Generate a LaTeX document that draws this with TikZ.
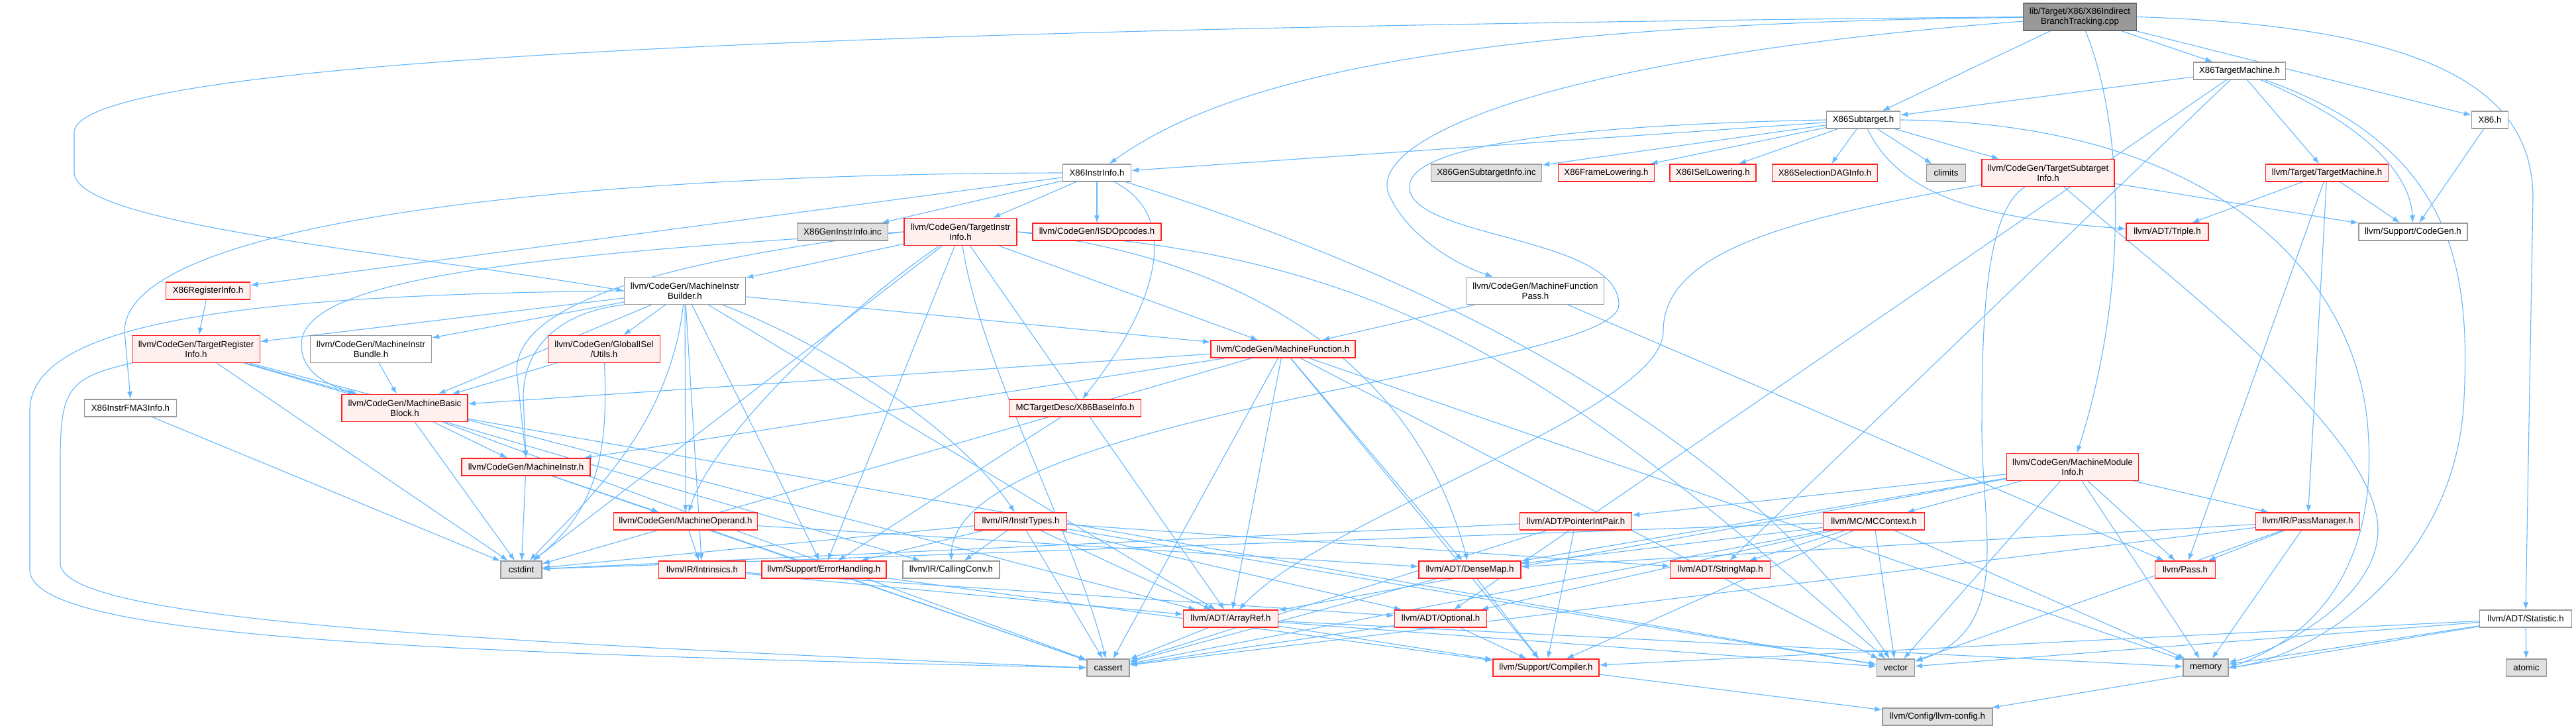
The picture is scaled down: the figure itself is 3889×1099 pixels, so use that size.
\documentclass[tikz,border=0pt]{standalone}
\usepackage{fontspec}
\setmainfont{Liberation Sans}
\usetikzlibrary{arrows.meta,backgrounds}
\definecolor{ecol}{HTML}{63B8FF}
\definecolor{rfill}{HTML}{FFF0F0}
\definecolor{gfill}{HTML}{E0E0E0}
\definecolor{gbord}{HTML}{999999}
\definecolor{rootfill}{HTML}{999999}
\definecolor{rootbord}{HTML}{666666}
\definecolor{rbord}{HTML}{FF2020}
\newcommand\nfs{\fontsize{13.3}{14.7}\selectfont}
\begin{document}
\begin{tikzpicture}[x=1pt,y=-1pt,
  box/.style={line width=1.4pt, inner sep=0pt, minimum height=26pt, align=center, font=\nfs},
  wnode/.style={box, draw=gbord, fill=white},
  rnode/.style={box, draw=rbord, fill=rfill},
  gnode/.style={box, draw=gbord, fill=gfill},
  rootnode/.style={box, draw=rootbord, fill=rootfill},
  two/.style={minimum height=41pt},
  edge/.style={draw=ecol, line width=1.1pt, -{Latex[length=11pt,width=8pt]}}]
\path[use as bounding box] (0,0) rectangle (3889,1099);

% ---- nodes ----
\node[rootnode, two, minimum width=171] (root) at (3140,25.5) {lib/Target/X86/X86Indirect\\BranchTracking.cpp};
\node[wnode, minimum width=139] (tm) at (3381,107) {X86TargetMachine.h};
\node[wnode, minimum width=111] (sub) at (2813,181) {X86Subtarget.h};
\node[wnode, minimum width=55] (x86) at (3759,181) {X86.h};
\node[wnode, minimum width=103] (instr) at (1656,261) {X86InstrInfo.h};
\node[gnode, minimum width=167] (gensub) at (2244,261) {X86GenSubtargetInfo.inc};
\node[rnode, minimum width=145] (frame) at (2425,261) {X86FrameLowering.h};
\node[rnode, minimum width=130] (isel) at (2586,261) {X86ISelLowering.h};
\node[rnode, minimum width=159] (dag) at (2755,261) {X86SelectionDAGInfo.h};
\node[gnode, minimum width=59] (climits) at (2938,261) {climits};
\node[rnode, two, minimum width=200] (tsi) at (3092,261) {llvm/CodeGen/TargetSubtarget\\Info.h};
\node[rnode, minimum width=185] (tmach) at (3513,261) {llvm/Target/TargetMachine.h};
\node[rnode, minimum width=124] (triple) at (3272,350) {llvm/ADT/Triple.h};
\node[wnode, minimum width=164] (codegen) at (3643,350) {llvm/Support/CodeGen.h};
\node[gnode, minimum width=137] (geninstr) at (1272,350) {X86GenInstrInfo.inc};
\node[rnode, two, minimum width=170] (tii) at (1450,350) {llvm/CodeGen/TargetInstr\\Info.h};
\node[rnode, minimum width=194] (isd) at (1656,350) {llvm/CodeGen/ISDOpcodes.h};
\node[rnode, minimum width=127] (reginfo) at (314,439) {X86RegisterInfo.h};
\node[wnode, two, minimum width=183] (mib) at (1034,439) {llvm/CodeGen/MachineInstr\\Builder.h};
\node[wnode, two, minimum width=207] (mfp) at (2318,439) {llvm/CodeGen/MachineFunction\\Pass.h};
\node[rnode, two, minimum width=193] (tri) at (296,527) {llvm/CodeGen/TargetRegister\\Info.h};
\node[wnode, two, minimum width=183] (bundle) at (560,527) {llvm/CodeGen/MachineInstr\\Bundle.h};
\node[rnode, two, minimum width=169] (gisel) at (912,527) {llvm/CodeGen/GlobalISel\\/Utils.h};
\node[rnode, minimum width=218] (mf) at (1937,527) {llvm/CodeGen/MachineFunction.h};
\node[wnode, minimum width=139] (fma3) at (197,616) {X86InstrFMA3Info.h};
\node[rnode, two, minimum width=190] (mbb) at (611,616) {llvm/CodeGen/MachineBasic\\Block.h};
\node[rnode, minimum width=199] (baseinfo) at (1623,616) {MCTargetDesc/X86BaseInfo.h};
\node[rnode, minimum width=194] (mi) at (794,705) {llvm/CodeGen/MachineInstr.h};
\node[rnode, two, minimum width=199] (mmi) at (3129,705) {llvm/CodeGen/MachineModule\\Info.h};
\node[rnode, minimum width=217] (mo) at (1035,787) {llvm/CodeGen/MachineOperand.h};
\node[rnode, minimum width=139] (instrtypes) at (1541,787) {llvm/IR/InstrTypes.h};
\node[rnode, minimum width=169] (pip) at (2379,787) {llvm/ADT/PointerIntPair.h};
\node[rnode, minimum width=153] (mcctx) at (2829,787) {llvm/MC/MCContext.h};
\node[rnode, minimum width=157] (pm) at (3484,787) {llvm/IR/PassManager.h};
\node[gnode, minimum width=62] (cstdint) at (787,860) {cstdint};
\node[rnode, minimum width=131] (intrinsics) at (1060,860) {llvm/IR/Intrinsics.h};
\node[rnode, minimum width=188] (errh) at (1244,860) {llvm/Support/ErrorHandling.h};
\node[wnode, minimum width=146] (cc) at (1436,860) {llvm/IR/CallingConv.h};
\node[rnode, minimum width=154] (densemap) at (2219,860) {llvm/ADT/DenseMap.h};
\node[rnode, minimum width=151] (strmap) at (2597,860) {llvm/ADT/StringMap.h};
\node[rnode, minimum width=91] (pass) at (3299,860) {llvm/Pass.h};
\node[rnode, minimum width=143] (arrayref) at (1858,934) {llvm/ADT/ArrayRef.h};
\node[rnode, minimum width=139] (optional) at (2175,934) {llvm/ADT/Optional.h};
\node[wnode, minimum width=139] (stat) at (3813,934) {llvm/ADT/Statistic.h};
\node[gnode, minimum width=64] (cassert) at (1673,1008) {cassert};
\node[rnode, minimum width=160] (compiler) at (2334,1008) {llvm/Support/Compiler.h};
\node[gnode, minimum width=57] (vector) at (2862,1008) {vector};
\node[gnode, minimum width=68] (memory) at (3330,1008) {memory};
\node[gnode, minimum width=61] (atomic) at (3814,1008) {atomic};
\node[gnode, minimum width=166] (config) at (2925,1082) {llvm/Config/llvm-config.h};

% ---- edges ----
\begin{scope}[on background layer]
\fill[white] (0,0) rectangle (3889,1099);
% straight connectors
\foreach \a/\b in {
  root/x86, root/sub, root/tm,
  tm/sub, tm/optional, tm/strmap, tm/tmach,
  sub/frame, sub/isel, sub/instr, sub/dag, sub/tsi, sub/climits, sub/gensub,
  x86/codegen,
  tmach/triple, tmach/codegen, tmach/pass, tmach/pm,
  tsi/codegen,
  instr/reginfo, instr/isd, instr/tii, instr/geninstr,
  tii/mib, tii/mf, tii/arrayref, tii/errh, tii/cstdint,
  reginfo/tri,
  mib/arrayref, mib/gisel, mib/mbb, mib/mf, mib/bundle, mib/mo, mib/tri, mib/intrinsics, mib/errh,
  mfp/mf, mfp/pass,
  mf/arrayref, mf/densemap, mf/mbb, mf/mi, mf/compiler, mf/cassert, mf/cstdint, mf/memory, mf/vector,
  tri/mbb, tri/arrayref, tri/cc, tri/cstdint,
  bundle/mbb, gisel/mbb, fma3/cstdint,
  mbb/mi, mbb/cassert, mbb/cstdint, mbb/vector,
  baseinfo/errh,
  mi/mo, mi/cstdint, mi/cassert,
  mmi/arrayref, mmi/densemap, mmi/pip, mmi/pm, mmi/mcctx, mmi/pass, mmi/memory, mmi/vector,
  mo/intrinsics, mo/cassert, mo/densemap,
  instrtypes/arrayref, instrtypes/optional, instrtypes/strmap, instrtypes/cc, instrtypes/errh, instrtypes/cassert, instrtypes/cstdint, instrtypes/vector,
  pip/cstdint, pip/cassert, pip/compiler,
  mcctx/densemap, mcctx/optional, mcctx/strmap, mcctx/compiler, mcctx/cassert, mcctx/cstdint, mcctx/vector, mcctx/memory,
  pm/densemap, pm/pass, pm/cassert, pm/vector, pm/memory,
  intrinsics/arrayref, intrinsics/optional,
  errh/compiler,
  densemap/cassert, densemap/compiler,
  arrayref/cassert, arrayref/compiler, arrayref/vector, arrayref/memory,
  optional/compiler, optional/cassert,
  stat/atomic, stat/memory, stat/vector, stat/compiler, stat/config,
  compiler/config}
  \draw[edge] (\a) -- (\b);
% curved connectors
\draw[edge] (root.west) .. controls (1500,40) and (112,80) .. (112,200) -- (112,260) .. controls (112,340) and (600,380) .. (mib.west);
\draw[edge] (root) .. controls (2200,35) and (1850,120) .. (instr);
\draw[edge] (root) .. controls (2300,90) and (2050,220) .. (2100,300) .. controls (2130,360) and (2200,400) .. (mfp);
\draw[edge] (root.east) .. controls (3700,40) and (3824,150) .. (3824,300) -- (stat.north);
\draw[edge] (root) .. controls (3210,200) and (3210,450) .. (mmi);
\draw[edge] (instr.west) .. controls (900,262) and (190,330) .. (188,500) -- (fma3.north);
\draw[edge] (instr) .. controls (1790,330) and (1740,470) .. (baseinfo);
\draw[edge] (instr) .. controls (2100,400) and (2600,620) .. (vector);
\draw[edge] (sub.west) .. controls (2300,190) and (2110,230) .. (2129,290) .. controls (2150,360) and (2444,360) .. (2444,460) .. controls (2444,560) and (1441,620) .. (cc.north);
\draw[edge] (sub.east) .. controls (3350,185) and (3560,420) .. (3575,650) .. controls (3590,850) and (3500,960) .. (memory.east);
\draw[edge] (sub) .. controls (2870,300) and (3000,330) .. (triple);
\draw[edge] (tm) .. controls (3700,220) and (3730,400) .. (3720,600) .. controls (3710,850) and (3500,990) .. (memory.east);
\draw[edge] (tm) .. controls (3600,200) and (3640,280) .. (codegen);
\draw[edge] (tsi) .. controls (2700,330) and (2511,380) .. (2511,500) .. controls (2511,620) and (2000,780) .. (arrayref);
\draw[edge] (tsi) .. controls (2995,320) and (2992,500) .. (2992,650) .. controls (2992,800) and (3040,950) .. (vector);
\draw[edge] (tsi) .. controls (3250,400) and (3590,650) .. (3590,800) .. controls (3590,900) and (3450,980) .. (memory);
\draw[edge] (mib.west) .. controls (400,445) and (45,480) .. (45,620) -- (45,860) .. controls (45,960) and (600,985) .. (cassert.west);
\draw[edge] (tri) .. controls (100,570) and (91,590) .. (91,700) -- (91,850) .. controls (91,930) and (600,965) .. (cassert.west);
\draw[edge] (tii.west) .. controls (800,385) and (455,420) .. (455,520) .. controls (455,560) and (490,580) .. (mbb);
\draw[edge] (tii.west) .. controls (950,400) and (780,470) .. (780,560) -- (mi.north);
\draw[edge] (mib.south west) .. controls (850,470) and (790,520) .. (790,600) -- (mi.north);
\draw[edge] (mib) .. controls (1010,650) and (880,760) .. (cstdint);
\draw[edge] (gisel) .. controls (916,650) and (916,760) .. (cstdint);
\draw[edge] (tii) .. controls (1300,450) and (1080,650) .. (mo);
\draw[edge] (tii) .. controls (1480,550) and (1620,800) .. (cassert);
\draw[edge] (tii.east) .. controls (1950,400) and (2150,600) .. (densemap);
\draw[edge] (tii.east) .. controls (2100,380) and (2350,560) .. (vector);
\draw[edge] (mib) .. controls (1250,520) and (1450,650) .. (instrtypes);
\end{scope}
\end{tikzpicture}
\end{document}
